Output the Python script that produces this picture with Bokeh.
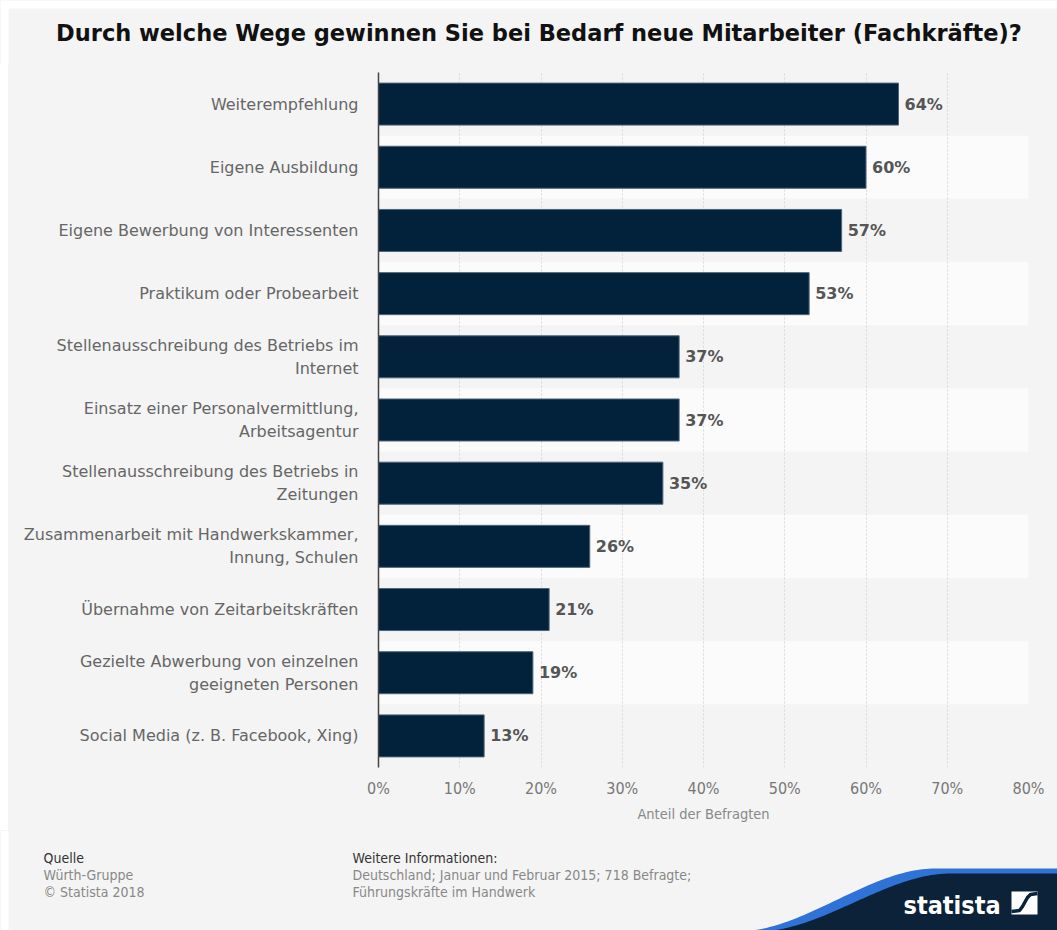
from bokeh.plotting import figure
from bokeh.layouts import column, row
from bokeh.models import (FactorRange, Range1d, FixedTicker, PrintfTickFormatter,
                          ColumnDataSource, Spacer)
from bokeh.core.properties import value
from bokeh.embed import file_html
from bokeh.resources import INLINE

# ---------------- data ----------------
title_text = "Durch welche Wege gewinnen Sie bei Bedarf neue Mitarbeiter (Fachkräfte)?"
categories = [
    "Weiterempfehlung",
    "Eigene Ausbildung",
    "Eigene Bewerbung von Interessenten",
    "Praktikum oder Probearbeit",
    "Stellenausschreibung des Betriebs im\nInternet",
    "Einsatz einer Personalvermittlung,\nArbeitsagentur",
    "Stellenausschreibung des Betriebs in\nZeitungen",
    "Zusammenarbeit mit Handwerkskammer,\nInnung, Schulen",
    "Übernahme von Zeitarbeitskräften",
    "Gezielte Abwerbung von einzelnen\ngeeigneten Personen",
    "Social Media (z. B. Facebook, Xing)",
]
values = [64, 60, 57, 53, 37, 37, 35, 26, 21, 19, 13]
x_ticks = [0, 10, 20, 30, 40, 50, 60, 70, 80]
x_axis_title = "Anteil der Befragten"
source_lines = ["Quelle", "Würth-Gruppe", "© Statista 2018"]
info_lines = ["Weitere Informationen:", "Deutschland; Januar und Februar 2015; 718 Befragte;",
              "Führungskräfte im Handwerk"]

BG = "#f4f4f4"
BAND = "#fbfbfb"
NAVY = "#02213a"
LOGO_NAVY = "#0b2239"
PW = 1057
COND = "DejaVu Sans Condensed, DejaVu Sans"


def plain_fig(h, y_top, y_bot):
    f = figure(width=PW, height=h, x_range=Range1d(0, PW), y_range=Range1d(y_bot, y_top),
               x_axis_type=None, y_axis_type=None, min_border=0,
               output_backend="svg", toolbar_location=None)
    f.grid.visible = False
    f.outline_line_color = None
    f.background_fill_color = BG
    f.border_fill_color = BG
    return f


# ---------------- header (page coords y 0..64) ----------------
hdr = plain_fig(64, 0, 64)
hdr.quad(left=[0, 0], right=[PW, 8], top=[0, 0], bottom=[8, 64], fill_color="white",
         line_color=None)
hdr.text(x=[538.5], y=[32], text=[title_text], text_align="center", text_baseline="middle",
         text_font=value("DejaVu Sans"), text_font_style="bold", text_font_size="22.5px",
         text_color="#111111")

# ---------------- main chart ----------------
src = ColumnDataSource(dict(cat=categories, val=values, lab=[f"{v}%" for v in values]))
band_src = ColumnDataSource(dict(cat=categories[1::2]))

p = figure(width=PW - 8, height=766, y_range=FactorRange(factors=categories[::-1]),
           x_range=Range1d(0, 80), output_backend="svg", toolbar_location=None,
           min_border_left=370, min_border_right=29, min_border_top=8, min_border_bottom=63)
p.outline_line_color = None
p.background_fill_color = BG
p.border_fill_color = BG

p.hbar(y="cat", left=0, right=80, height=1.0, source=band_src, fill_color=BAND,
       line_color=None, level="underlay")
p.hbar(y="cat", right="val", left=0, height=0.665, source=src, fill_color=NAVY,
       line_color="#4d6579", line_width=1)
p.text(x="val", y="cat", text="lab", source=src, x_offset=6, text_align="left",
       text_baseline="middle", text_font=value("DejaVu Sans"), text_font_style="bold",
       text_font_size="16px", text_color="#555555")

p.ygrid.grid_line_color = None
p.xgrid.ticker = FixedTicker(ticks=x_ticks)
p.xgrid.grid_line_color = "#d9d9d9"
p.xgrid.grid_line_dash = "2 2"

xa = p.xaxis[0]
xa.ticker = FixedTicker(ticks=x_ticks)
xa.formatter = PrintfTickFormatter(format="%d%%")
xa.axis_line_color = None
xa.major_tick_line_color = None
xa.major_tick_out = 0
xa.minor_tick_line_color = None
xa.major_label_text_font = COND
xa.major_label_text_font_size = "16px"
xa.major_label_text_color = "#777777"
xa.major_label_standoff = 11
xa.axis_label = x_axis_title
xa.axis_label_text_font = COND
xa.axis_label_text_font_style = "normal"
xa.axis_label_text_font_size = "14.5px"
xa.axis_label_text_color = "#888888"
xa.axis_label_standoff = 5

ya = p.yaxis[0]
ya.axis_line_color = "#444444"
ya.axis_line_width = 1.5
ya.major_tick_line_color = None
ya.major_tick_out = 0
ya.minor_tick_line_color = None
ya.major_label_text_font = "DejaVu Sans"
ya.major_label_text_font_size = "16px"
ya.major_label_text_color = "#666666"
ya.major_label_standoff = 20

# ---------------- footer (page coords y 830..930) ----------------
ft = plain_fig(100, 830, 930)
ft.quad(left=[0], right=[8], top=[830], bottom=[930], fill_color="white", line_color=None)

line_y = [857, 874, 891]
ft.text(x=[43] * 3, y=line_y, text=source_lines, text_baseline="middle",
        text_font=value(COND), text_font_size="14px",
        text_color=["#333333", "#888888", "#888888"])
ft.text(x=[352] * 3, y=line_y, text=info_lines, text_baseline="middle",
        text_font=value(COND), text_font_size="14px",
        text_color=["#333333", "#888888", "#888888"])


def swoosh(x0, x1, y0, y1, n=60):
    xs, ys = [], []
    for i in range(n + 1):
        t = i / n
        s = 3 * t * t - 2 * t * t * t
        xs.append(x0 + (x1 - x0) * t)
        ys.append(y0 + (y1 - y0) * s)
    return xs + [PW + 5, PW + 5, x0], ys + [y1, 940, 940]


bx, by = swoosh(737, 935, 931, 868)
nx, ny = swoosh(757, 950, 931, 873)
ft.patch(bx, by, fill_color="#2f73d8", line_color=None)
ft.patch(nx, ny, fill_color=LOGO_NAVY, line_color=None)
ft.text(x=[903], y=[905], text=["statista"], text_baseline="middle",
        text_font=value(COND), text_font_style="bold", text_font_size="25px",
        text_color="white")
ft.quad(left=[1011], right=[1037], top=[891], bottom=[914], fill_color="white",
        line_color=None)
ft.line([1011, 1019, 1022, 1027, 1030, 1037], [911, 910, 906, 897, 894, 893],
        line_color=LOGO_NAVY, line_width=3.5)

spacer = Spacer(width=8, height=766, styles={"background-color": "white"})
layout = column(hdr, row(spacer, p, spacing=0), ft, spacing=0,
                styles={"background-color": BG})
open("out.html", "w").write(file_html(layout, INLINE))
